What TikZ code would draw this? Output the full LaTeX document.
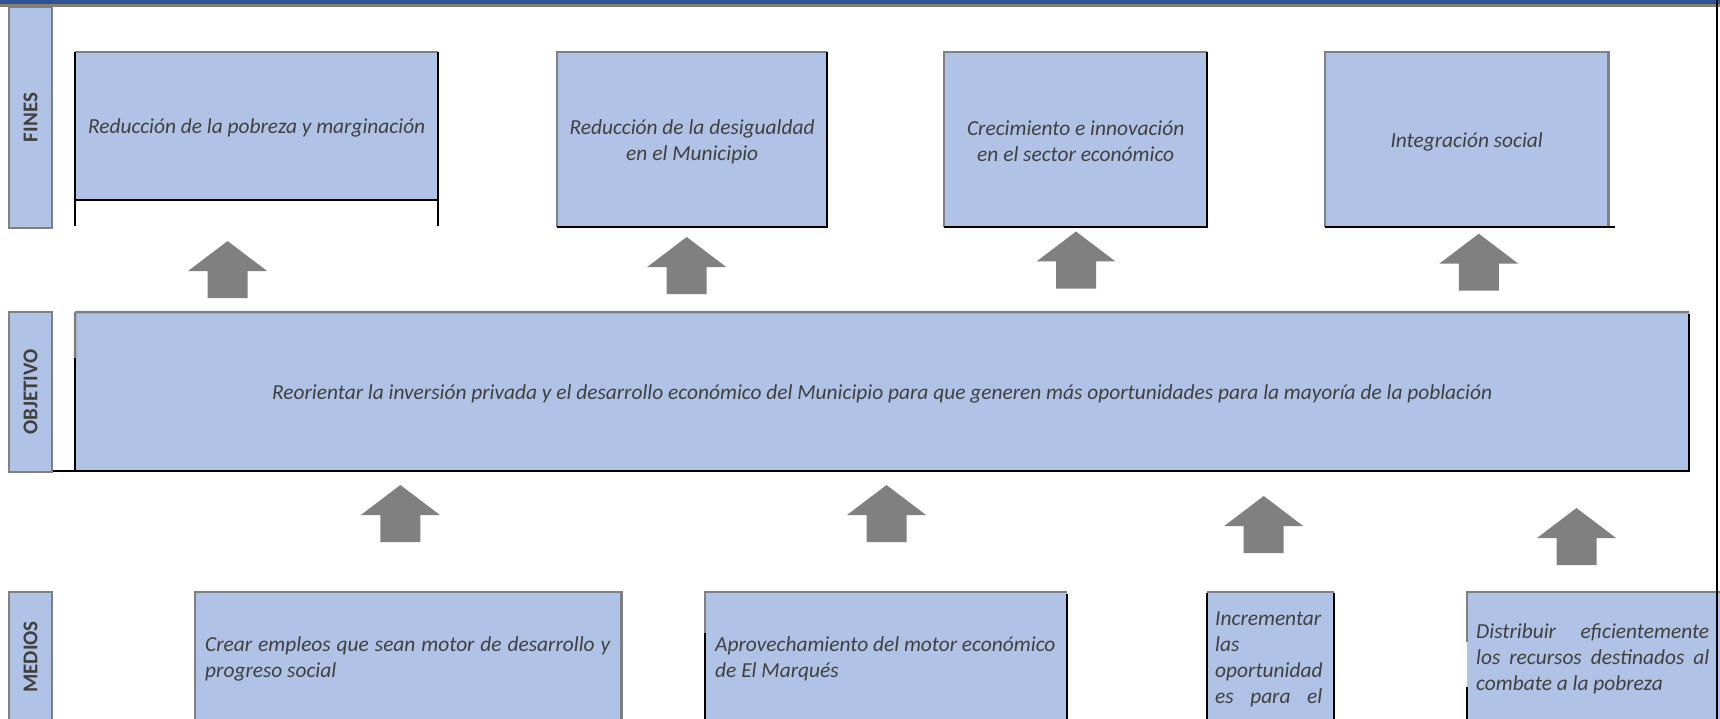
\documentclass[tikz,border=0pt]{standalone}
\usepackage{fontspec}
\setmainfont{Carlito}
\definecolor{boxblue}{RGB}{176,195,230}
\definecolor{bordergray}{RGB}{128,128,128}
\definecolor{arrowgray}{RGB}{128,128,128}
\definecolor{textgray}{RGB}{64,64,64}
\definecolor{bandblue}{RGB}{47,84,150}
\begin{document}
\begin{tikzpicture}[x=1pt,y=-1pt,
  fillbox/.style={fill=boxblue, draw=none, inner sep=0pt, anchor=north west},
  ctxt/.style={inner sep=0pt, text=textgray, font=\itshape\fontsize{21.4}{26}\selectfont, align=center, yshift=-2pt},
  txt/.style={inner sep=0pt, text=textgray, font=\itshape\fontsize{21.4}{26}\selectfont, align=left, anchor=west},
  lbl/.style={fill=boxblue, draw=bordergray, line width=2.5pt, inner sep=0pt, anchor=center, rotate=90, text=textgray, font=\bfseries\fontsize{21}{26}\selectfont},
  gline/.style={draw=bordergray, line width=2.5pt},
  bline/.style={draw=black, line width=2pt},
  uparrow/.pic={\fill[arrowgray] (-20,57) -- (-20,30) -- (-39.5,30) -- (0,0) -- (39.5,30) -- (20,30) -- (20,57) -- cycle;}
]
\useasboundingbox (0,0) rectangle (1720,719);
\clip (0,0) rectangle (1720,719);
% top band
\fill[bandblue] (0,0) rectangle (1720,4.5);
\fill[bordergray] (0,4.5) rectangle (1720,7.3);
% row labels
\node[lbl, minimum width=221pt, minimum height=43pt] (lf) at (30.5,117.5) {FINES};
\node[lbl, minimum width=160pt, minimum height=43pt] (lo) at (30.5,392) {OBJETIVO};
\node[lbl, minimum width=130pt, minimum height=43pt] (lm) at (30.5,657) {MEDIOS};
% fines
\node[fillbox, minimum width=363pt, minimum height=148pt] (f1) at (75,52) {};
\node[fillbox, minimum width=270pt, minimum height=175pt] (f2) at (557,52) {};
\node[fillbox, minimum width=263pt, minimum height=175pt] (f3) at (944,52) {};
\node[fillbox, minimum width=283pt, minimum height=175pt] (f4) at (1325,52) {};
% objetivo
\node[fillbox, minimum width=1614pt, minimum height=159pt] (obj) at (75,312) {};
% medios
\node[fillbox, minimum width=426pt, minimum height=140pt] (m1) at (195,592) {};
\node[fillbox, minimum width=362pt, minimum height=140pt] (m2) at (705,592) {};
\node[fillbox, minimum width=127pt, minimum height=140pt] (m3) at (1207,592) {};
\node[fillbox, minimum width=260pt, minimum height=140pt] (m4) at (1467,592) {};
% borders fines
\draw[gline] (f1.north west) -- (f1.north east);
\draw[bline] (f1.north west) -- ++(0,174);
\draw[bline] (f1.north east) -- ++(0,174);
\draw[bline] (f1.south west) -- (f1.south east);
\draw[gline] (f2.south west) -- (f2.north west) -- (f2.north east);
\draw[bline] (f2.north east) -- (f2.south east) -- (f2.south west);
\draw[gline] (f3.south west) -- (f3.north west) -- (f3.north east);
\draw[bline] (f3.north east) -- (f3.south east) -- (f3.south west);
\draw[gline] (f4.south west) -- (f4.north west) -- (f4.north east) -- (f4.south east);
\draw[bline] (f4.south west) -- ([xshift=7pt]f4.south east);
% borders objetivo
\draw[gline, rounded corners=2pt] ([yshift=-46pt]obj.north west) -- (obj.north west) -- (obj.north east);
\draw[bline] ([yshift=-46pt]obj.north west) -- (obj.south west);
\draw[bline] ([xshift=-22pt]obj.south west) -- (obj.south east) -- ([yshift=-2pt]obj.north east);
% borders medios
\draw[gline] (m1.south west) -- (m1.north west) -- (m1.north east) -- (m1.south east);
\draw[gline] ([yshift=-41pt]m2.north west) -- (m2.north west) -- (m2.north east);
\draw[bline] ([yshift=-41pt]m2.north west) -- (m2.south west);
\draw[bline] ([yshift=-2pt]m2.north east) -- (m2.south east);
\draw[gline] (m3.north west) -- (m3.north east);
\draw[bline] ([yshift=-1pt]m3.north west) -- (m3.south west);
\draw[bline] ([yshift=-1pt]m3.north east) -- (m3.south east);
\draw[gline] ([yshift=-50pt]m4.north west) -- (m4.north west) -- (m4.north east);
\draw[bline] ([yshift=-95pt]m4.north west) -- (m4.south west);
% texts
\node[ctxt] (f1t) at (f1.center) {Reducción de la pobreza y marginación};
\node[ctxt] (f2t) at (f2.center) {Reducción de la desigualdad\\en el Municipio};
\node[ctxt] (f3t) at (f3.center) {Crecimiento e innovación\\en el sector económico};
\node[ctxt] (f4t) at (f4.center) {Integración social};
\node[ctxt] (objt) at (obj.center) {Reorientar la inversión privada y el desarrollo económico del Municipio para que generen más oportunidades para la mayoría de la población};
\node[txt] (m1t) at (205,659) {\makebox[405pt][s]{Crear empleos que sean motor de desarrollo y}\\progreso social};
\node[txt] (m2t) at (715,659) {Aprovechamiento del motor económico\\de El Marqués};
\node[txt] (m3t) at (1215,659) {Incrementar\\las\\oportunidad\\\makebox[107pt][s]{es para el}};
\node[txt] (m4t) at (1476,659) {\makebox[233pt][s]{Distribuir eficientemente}\\\makebox[233pt][s]{los recursos destinados al}\\combate a la pobreza};
% right edge line
\coordinate (rt) at (1717,0);
\coordinate (rb) at (1717,719);
\draw[black, line width=2pt] (rt) -- (rb);
% arrows
\pic at (227.6,241) {uparrow};
\pic at (686.7,237) {uparrow};
\pic at (1076,231.5) {uparrow};
\pic at (1478.8,233.7) {uparrow};
\pic at (400.4,485) {uparrow};
\pic at (886.5,485) {uparrow};
\pic at (1263.7,496) {uparrow};
\pic at (1576.5,508) {uparrow};
\end{tikzpicture}
\end{document}
